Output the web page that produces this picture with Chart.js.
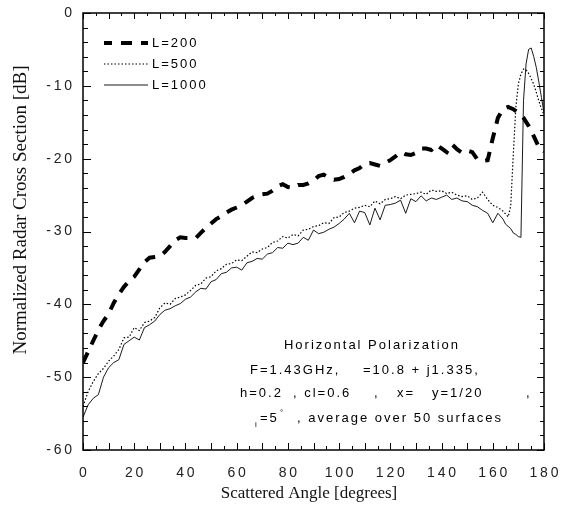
<!DOCTYPE html>
<html>
<head>
<meta charset="utf-8">
<script src="https://cdn.jsdelivr.net/npm/chart.js@4.4.0/dist/chart.umd.min.js"></script>
<style>
  html, body { margin: 0; padding: 0; background: #fff; }
  #wrap { width: 565px; height: 512px; }
</style>
</head>
<body>
<div id="wrap"><canvas id="rcsChart" width="565" height="512"></canvas></div>
<script>
// scattered angle (deg) for the L=200 curve
const angles200 = [0,2,4,6,8,10,12,14,16,18,20,22,24,26,28,30,32,34,36,38,40,42,44,46,48,50,
  52,54,56,58,60,62,64,66,68,70,72,74,76,78,80,82,84,86,88,90,92,94,96,98,100,102,104,106,108,110,
  112,114,116,118,120,122,124,126,128,130,132,134,136,138,140,142,144,146,148,150,152,154,156,158,
  160,162,164,166,168,170,172,174,176,178,180];

const rcs200 = [-48.0,-46.5,-45.0,-43.5,-42.3,-41.3,-39.8,-38.6,-37.6,-36.8,-36.2,-35.2,-34.2,-33.6,
  -33.5,-33.4,-32.8,-32.0,-31.2,-30.8,-30.9,-30.9,-30.9,-30.2,-29.5,-28.9,-28.3,-27.9,-27.4,-27.0,
  -26.7,-26.4,-25.9,-25.4,-25.1,-24.9,-24.8,-24.4,-23.8,-23.5,-23.9,-24.0,-23.6,-23.6,-23.4,-23.0,
  -22.4,-22.2,-22.6,-22.9,-22.8,-22.5,-22.1,-21.6,-21.3,-20.7,-20.6,-20.8,-21.0,-20.6,-20.2,-19.7,
  -19.1,-19.4,-19.5,-19.2,-18.6,-18.6,-18.8,-18.1,-18.6,-19.1,-18.0,-18.7,-19.2,-18.9,-19.1,-20.1,
  -20.3,-20.2,-17.2,-14.4,-13.2,-12.9,-13.2,-13.7,-14.4,-15.5,-16.9,-18.4,-19.0];

// scattered angle (deg) for the L=500 and L=1000 curves
const anglesFine = [0,2,4,6,8,10,12,14,16,18,20,22,24,26,28,30,32,34,36,38,40,42,44,46,48,50,
  52,54,56,58,60,62,64,66,68,70,72,74,76,78,80,82,84,86,88,90,92,94,96,98,100,102,104,106,108,110,
  112,114,116,118,120,122,124,126,128,130,132,134,136,138,140,142,144,146,148,150,152,154,156,158,
  160,162,164,165,166,167,168,169,170,171,172,173,174,175,176,177,178,179,180];

const rcs500 = [-54.0,-52.0,-50.6,-49.5,-48.8,-47.8,-47.1,-46.2,-44.6,-44.5,-43.2,-43.6,-42.5,-42.3,
  -41.8,-40.5,-39.8,-40.0,-39.2,-39.0,-38.7,-38.1,-37.4,-37.2,-36.4,-36.2,-35.4,-35.1,-34.5,-34.4,
  -33.9,-34.0,-33.4,-32.8,-32.9,-32.4,-32.2,-31.5,-31.3,-30.7,-30.9,-30.4,-30.6,-29.8,-29.7,-29.3,
  -29.2,-28.8,-28.9,-28.1,-28.0,-27.4,-27.2,-26.8,-26.7,-26.4,-26.6,-25.8,-26.2,-25.6,-25.5,-25.2,
  -25.5,-25.0,-24.9,-24.8,-24.6,-24.9,-24.3,-24.5,-24.4,-24.8,-24.6,-25.0,-25.2,-25.1,-25.6,-25.4,
  -24.6,-25.6,-26.4,-26.7,-27.2,-27.6,-28.0,-26.5,-19.5,-13.0,-9.7,-8.4,-7.7,-7.8,-8.3,-9.0,-9.8,
  -10.9,-12.1,-13.1,-14.0];

const rcs1000 = [-55.5,-53.8,-52.9,-52.4,-50.0,-48.7,-48.0,-47.6,-45.5,-45.0,-44.5,-44.9,-43.2,-42.8,
  -42.3,-41.4,-40.8,-40.6,-40.2,-39.9,-39.3,-39.0,-38.3,-37.8,-37.9,-36.9,-36.6,-35.8,-35.6,-35.0,
  -34.9,-35.3,-34.3,-34.1,-33.7,-33.8,-33.1,-32.9,-32.2,-32.3,-31.6,-31.8,-31.6,-30.8,-31.2,-29.8,
  -30.3,-30.1,-29.7,-29.4,-28.9,-28.3,-27.5,-28.8,-27.2,-27.4,-29.1,-26.8,-28.4,-26.4,-26.3,-26.1,
  -25.7,-27.5,-25.5,-25.9,-25.1,-25.8,-25.4,-25.6,-25.3,-25.0,-25.6,-25.4,-25.8,-25.9,-26.4,-26.6,
  -27.1,-27.5,-28.8,-27.5,-28.3,-29.0,-29.3,-29.6,-30.2,-30.4,-30.7,-30.8,-12.0,-7.0,-5.0,-4.8,-6.0,
  -7.5,-9.5,-11.6,-13.7];

const seriesLabels = ['L=200', 'L=500', 'L=1000'];

const toPoints = (xs, ys) => xs.map((a, i) => ({ x: a, y: ys[i] }));
const spaced = v => String(v).split('').join('\u2009');

// frame with inward ticks, legend, notes and axis titles
const decorations = {
  id: 'decorations',
  afterDraw(chart) {
    const { ctx, chartArea: a, scales: { x, y } } = chart;
    ctx.save();
    ctx.strokeStyle = '#000';
    ctx.lineWidth = 1.5;
    ctx.strokeRect(a.left, a.top, a.right - a.left, a.bottom - a.top);

    ctx.lineWidth = 1;
    ctx.beginPath();
    for (let v = 0; v <= 180; v += 5) {
      const px = Math.round(x.getPixelForValue(v)) + 0.5;
      const len = v % 10 === 0 ? 7 : 4;
      ctx.moveTo(px, a.bottom); ctx.lineTo(px, a.bottom - len);
      ctx.moveTo(px, a.top); ctx.lineTo(px, a.top + len - 1);
    }
    for (let v = -60; v <= 0; v += 2) {
      const py = Math.round(y.getPixelForValue(v)) + 0.5;
      const len = v % 10 === 0 ? 8 : 5;
      ctx.moveTo(a.left, py); ctx.lineTo(a.left + len, py);
      ctx.moveTo(a.right, py); ctx.lineTo(a.right - len + 1, py);
    }
    ctx.stroke();

    // legend
    ctx.fillStyle = '#000';
    ctx.font = '13px "Liberation Sans", Arial, sans-serif';
    ctx.letterSpacing = '2px';
    ctx.textBaseline = 'middle';
    chart.data.datasets.forEach((ds, i) => {
      const ly = 43 + i * 21;
      ctx.save();
      ctx.lineWidth = ds.borderWidth;
      ctx.setLineDash(ds.borderDash || []);
      ctx.lineDashOffset = i === 0 ? 3 : 0;
      ctx.beginPath();
      ctx.moveTo(104, ly); ctx.lineTo(148, ly);
      ctx.stroke();
      ctx.restore();
      ctx.fillText(ds.label, 152, ly);
    });

    // notes (greek symbols are blank in the original)
    ctx.textAlign = 'center';
    ctx.fillText('Horizontal Polarization', 372, 345);
    ctx.textAlign = 'left';
    ctx.fillText('F=1.43GHz,', 250, 370);
    ctx.fillText('=10.8 + j1.335,', 363, 370);
    ctx.fillText('h=0.2', 240, 393);
    ctx.fillText(', cl=0.6', 293, 393);
    ctx.fillText(',', 374, 393);
    ctx.fillText('x=', 397, 393);
    ctx.fillText('y=1/20', 432, 393);
    ctx.fillText(',', 526, 393);
    ctx.fillText('=5', 260, 418);
    ctx.fillText(', average over 50 surfaces', 297, 418);
    ctx.font = '8px "Liberation Sans", Arial, sans-serif';
    ctx.letterSpacing = '0px';
    ctx.fillText('i', 255, 425);
    ctx.fillText('\u00b0', 280, 413);

    // axis titles
    ctx.fillStyle = '#111';
    ctx.textAlign = 'center';
    ctx.font = '17px "Liberation Serif", "Times New Roman", serif';
    ctx.fillText('Scattered Angle [degrees]', 309, 494);
    ctx.translate(21, 210);
    ctx.rotate(-Math.PI / 2);
    ctx.font = '19px "Liberation Serif", "Times New Roman", serif';
    ctx.fillText('Normalized Radar Cross Section [dB]', 0, 0);
    ctx.restore();
  }
};

new Chart(document.getElementById('rcsChart'), {
  type: 'line',
  data: {
    datasets: [
      { label: seriesLabels[0], data: toPoints(angles200, rcs200),
        borderColor: '#000', borderWidth: 4, borderDash: [11, 9], pointRadius: 0, fill: false },
      { label: seriesLabels[1], data: toPoints(anglesFine, rcs500),
        borderColor: '#000', borderWidth: 1.2, borderDash: [1.5, 2], pointRadius: 0, fill: false },
      { label: seriesLabels[2], data: toPoints(anglesFine, rcs1000),
        borderColor: '#000', borderWidth: 0.9, pointRadius: 0, fill: false }
    ]
  },
  options: {
    responsive: false,
    animation: false,
    layout: { padding: { top: 13, right: 21, left: 0, bottom: 0 } },
    plugins: { legend: { display: false }, tooltip: { enabled: false } },
    scales: {
      x: {
        type: 'linear', min: 0, max: 180,
        grid: { display: false, drawTicks: false },
        border: { display: false },
        ticks: { stepSize: 20, padding: 15, color: '#222', maxRotation: 0,
          font: { family: '"Liberation Sans", Arial, sans-serif', size: 14 },
          callback: spaced },
        afterFit: s => { s.height = 62; s.paddingLeft = 0; s.paddingRight = 0; }
      },
      y: {
        type: 'linear', min: -60, max: 0,
        grid: { display: false, drawTicks: false },
        border: { display: false },
        ticks: { stepSize: 10, padding: 11, color: '#222',
          font: { family: '"Liberation Sans", Arial, sans-serif', size: 14 },
          callback: spaced },
        afterFit: s => { s.width = 83; s.paddingTop = 0; s.paddingBottom = 0; }
      }
    }
  },
  plugins: [decorations]
});
</script>
</body>
</html>
